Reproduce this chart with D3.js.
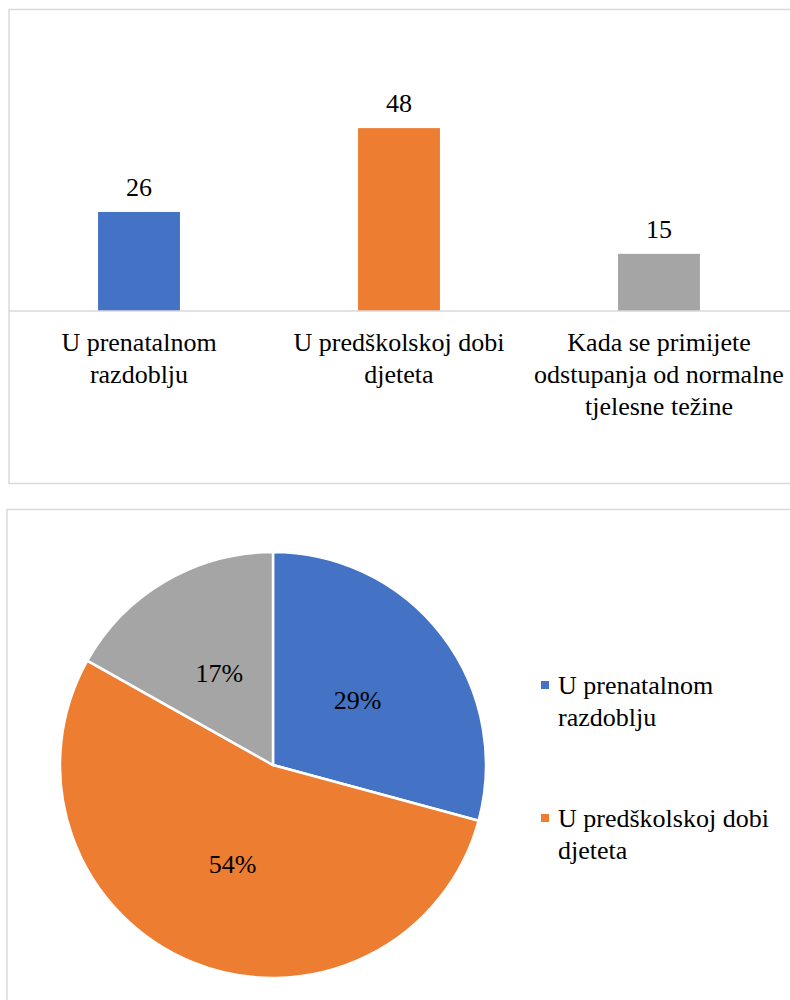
<!DOCTYPE html>
<meta charset="utf-8">
<style>
body {margin: 0; background: #fff;}
#chart text {font-family: "Liberation Serif", "Times New Roman", serif;}
</style>
<body>
<script src="https://cdnjs.cloudflare.com/ajax/libs/d3/7.8.5/d3.min.js"></script>
<svg id="chart" width="790" height="1000"></svg>
<script>
// Data
var categories = ["U prenatalnom razdoblju", "U predškolskoj dobi djeteta", "Kada se primijete odstupanja od normalne tjelesne težine"];
var catLines   = [["U prenatalnom", "razdoblju"], ["U predškolskoj dobi", "djeteta"], ["Kada se primijete", "odstupanja od normalne", "tjelesne težine"]];
var values     = [26, 48, 15];
var pieLabels  = ["29%", "54%", "17%"];
var colors     = ["#4472c4", "#ed7d31", "#a5a5a5"];

var fontSize = 26;

var svg = d3.select("#chart");

// chart boxes
svg.append("rect")
  .attr("x", 9).attr("y", 9.5)
  .attr("width", 800).attr("height", 474)
  .attr("fill", "none").attr("stroke", "#d9d9d9").attr("stroke-width", 1.5);
svg.append("rect")
  .attr("x", 7).attr("y", 509.5)
  .attr("width", 800).attr("height", 520)
  .attr("fill", "none").attr("stroke", "#d9d9d9").attr("stroke-width", 1.5);

// ---- bar chart ----
var x = d3.scaleBand()
  .domain(categories)
  .range([9, 789])
  .paddingInner(0.685)
  .paddingOuter(0.3425);

var y = d3.scaleLinear()
  .domain([0, 60])
  .range([311, 82.4]);

var bars = svg.append("g");

bars.selectAll("rect")
  .data(values)
  .enter()
  .append("rect")
  .attr("x", (d, i) => x(categories[i]))
  .attr("y", d => y(d))
  .attr("width", x.bandwidth())
  .attr("height", d => y(0) - y(d))
  .attr("fill", (d, i) => colors[i]);

bars.selectAll("text.val")
  .data(values)
  .enter()
  .append("text")
  .attr("class", "val")
  .attr("x", (d, i) => x(categories[i]) + x.bandwidth() / 2)
  .attr("y", d => y(d) - 16)
  .attr("text-anchor", "middle")
  .attr("font-size", fontSize)
  .text(d => d);

// baseline
svg.append("line")
  .attr("x1", 9).attr("x2", 790)
  .attr("y1", y(0)).attr("y2", y(0))
  .attr("stroke", "#d9d9d9").attr("stroke-width", 1.5);

// category labels
var cats = svg.append("g").selectAll("text")
  .data(catLines)
  .enter()
  .append("text")
  .attr("x", (d, i) => x(categories[i]) + x.bandwidth() / 2)
  .attr("y", 351)
  .attr("text-anchor", "middle")
  .attr("font-size", fontSize);

cats.selectAll("tspan")
  .data(d => d)
  .enter()
  .append("tspan")
  .attr("x", function() { return d3.select(this.parentNode).attr("x"); })
  .attr("dy", (d, i) => i === 0 ? 0 : 32)
  .text(d => d);

// ---- pie chart ----
var cx = 273, cy = 765, r = 213;

var pie = d3.pie().sort(null).value(d => d);
var arc = d3.arc().innerRadius(0).outerRadius(r);
var labelArc = d3.arc().innerRadius(r * 0.5).outerRadius(r * 0.5);

var pg = svg.append("g").attr("transform", "translate(" + cx + "," + cy + ")");

var arcs = pie(values);

pg.selectAll("path")
  .data(arcs)
  .enter()
  .append("path")
  .attr("d", arc)
  .attr("fill", (d, i) => colors[i])
  .attr("stroke", "#fff")
  .attr("stroke-width", 2.5);

pg.selectAll("text")
  .data(arcs)
  .enter()
  .append("text")
  .attr("transform", d => "translate(" + labelArc.centroid(d) + ")")
  .attr("text-anchor", "middle")
  .attr("dy", "0.35em")
  .attr("font-size", fontSize)
  .text((d, i) => pieLabels[i]);

// legend (third entry falls outside the visible area)
var legendLines = [catLines[0], catLines[1]];
var lg = svg.append("g").selectAll("g")
  .data(legendLines)
  .enter()
  .append("g")
  .attr("transform", (d, i) => "translate(541," + (681 + i * 133) + ")");

lg.append("rect")
  .attr("width", 8).attr("height", 8)
  .attr("fill", (d, i) => colors[i]);

var lt = lg.append("text")
  .attr("x", 17)
  .attr("y", 13)
  .attr("font-size", fontSize);

lt.selectAll("tspan")
  .data(d => d)
  .enter()
  .append("tspan")
  .attr("x", 17)
  .attr("dy", (d, i) => i === 0 ? 0 : 32)
  .text(d => d);
</script>
</body>
